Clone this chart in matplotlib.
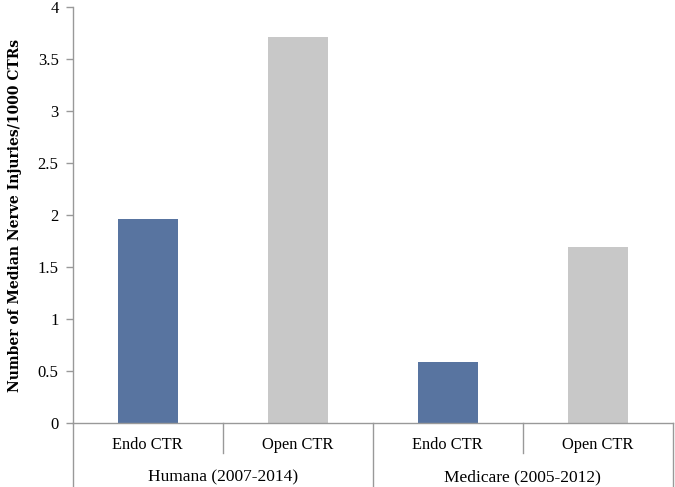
import matplotlib
matplotlib.use("Agg")
import matplotlib.pyplot as plt
from matplotlib.lines import Line2D

groups = ["Humana (2007-2014)", "Medicare (2005-2012)"]
subcats = ["Endo CTR", "Open CTR"]
values = [1.96, 3.71, 0.59, 1.69]
colors = ["#5874A0", "#C8C8C8", "#5874A0", "#C8C8C8"]
yticks = [0, 0.5, 1, 1.5, 2, 2.5, 3, 3.5, 4]
ytick_labels = ["0", "0.5", "1", "1.5", "2", "2.5", "3", "3.5", "4"]
ylabel = "Number of Median Nerve Injuries/1000 CTRs"

W, H = 675, 487
fig = plt.figure(figsize=(W / 100, H / 100), dpi=100)
left, right, top, bottom = 72.5, 673, 7, 423
ax = fig.add_axes([left / W, (H - bottom) / H, (right - left) / W, (bottom - top) / H])

serif = "Liberation Serif"
x = list(range(len(values)))
ax.bar(x, values, width=0.4, color=colors, zorder=2)
ax.set_xlim(-0.5, len(values) - 0.5)
ax.set_ylim(0, 4)
ax.set_yticks(yticks)
ax.set_yticklabels(ytick_labels, fontfamily=serif, fontsize=12)
ax.tick_params(axis="y", length=5, color="#999999", width=1, pad=5)
ax.set_xticks([])
for s in ["top", "right"]:
    ax.spines[s].set_visible(False)
for s in ["left", "bottom"]:
    ax.spines[s].set_color("#999999")
    ax.spines[s].set_linewidth(1)

ax.set_ylabel(ylabel, fontfamily="DejaVu Serif", fontsize=10, fontweight="bold", labelpad=11)

# two-level category axis
px = 1.0 / (bottom - top)  # axes fraction per pixel
trans = ax.get_xaxis_transform()
for i in range(len(values)):
    ax.text(x[i], -22 * px, subcats[i % 2], transform=trans, ha="center", va="center",
            fontfamily=serif, fontsize=11.8)
for g, name in enumerate(groups):
    ax.text(2 * g + 0.5, -54 * px, name, transform=trans, ha="center", va="center",
            fontfamily=serif, fontsize=12.5)
# minor dividers
for xv in [0.5, 2.5]:
    ax.add_line(Line2D([xv, xv], [0, -30 * px], transform=trans, color="#999999", lw=1, clip_on=False))
# major dividers
for xv in [-0.5, 1.5, 3.5]:
    ax.add_line(Line2D([xv, xv], [0, -66 * px], transform=trans, color="#999999", lw=1, clip_on=False))

fig.savefig("out.png", dpi=100)
